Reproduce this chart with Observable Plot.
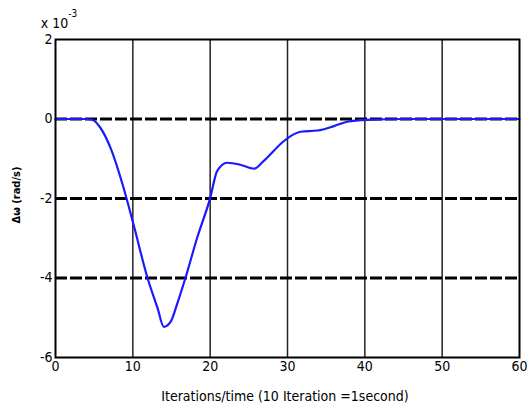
<!DOCTYPE html>
<html><head><meta charset="utf-8">
<script src="https://cdn.jsdelivr.net/npm/d3@7"></script>
<script src="https://cdn.jsdelivr.net/npm/@observablehq/plot@0.6"></script>
<style>
body{margin:0;background:#fff;}
svg{font-family:"DejaVu Sans Condensed","DejaVu Sans",sans-serif;}
</style>
</head><body>
<div id="chart"></div>
<script>
const times = [0,2,4,4.75,5.8,7.1,8.8,10.1,11.9,13.2,14.0,14.9,15.7,16.8,18.3,20.0,20.9,22.2,23.9,25.7,26.9,29.5,30.4,31.7,33.9,36.0,37.7,40.3,45,50,55,60];
const values = [0,0,0,-0.02,-0.22,-0.72,-1.73,-2.66,-4.0,-4.76,-5.23,-5.1,-4.67,-4.0,-3.0,-1.99,-1.31,-1.1,-1.15,-1.25,-1.06,-0.56,-0.43,-0.32,-0.29,-0.18,-0.07,-0.02,0,0,0,0];
const xTicks = [0,10,20,30,40,50,60];
const yTicks = [2,0,-2,-4,-6];
const xGrid = [10,20,30,40,50];
const yGrid = [0,-2,-4];
const xLabel = "Iterations/time (10 Iteration =1second)";
const yLabel = "Δω (rad/s)";

const data = times.map((t,i)=>({t, v: values[i]}));

const chart = Plot.plot({
  width: 531, height: 409,
  marginLeft: 55, marginRight: 12, marginTop: 39, marginBottom: 52,
  style: {fontSize: "14px", color: "#000", background: "#fff"},
  x: {domain: [0,60], ticks: xTicks, tickSize: 0, label: null},
  y: {domain: [-6,2], ticks: yTicks, tickSize: 0, label: null},
  marks: [
    Plot.ruleX(xGrid, {stroke: "#222", strokeWidth: 1.5}),
    Plot.ruleY(yGrid, {stroke: "#000", strokeWidth: 3, strokeDasharray: "12,3"}),
    Plot.line(data, {x: "t", y: "v", stroke: "#1a1aff", strokeWidth: 2.2, curve: "monotone-x"}),
    Plot.frame({stroke: "#000", strokeWidth: 2}),
    Plot.axisX({ticks: xTicks, tickSize: 0, tickPadding: 4, fontSize: 14, label: null, tickFormat: d => String(d)}),
    Plot.axisY({ticks: yTicks, tickSize: 0, tickPadding: 3, fontSize: 14, label: null, tickFormat: d => String(d)})
  ]
});
const svg = d3.select(chart);
svg.append("text").attr("x", 285).attr("y", 401).attr("text-anchor","middle")
  .attr("font-size", 14).text(xLabel);
const ex = svg.append("text").attr("x", 59).attr("y", 28).attr("font-size", 14);
ex.append("tspan").text("x 10");
ex.append("tspan").attr("dy", -11).attr("font-size", 10).text("-3");
svg.append("text").attr("transform","translate(20,195) rotate(-90)")
  .attr("text-anchor","middle").attr("font-size", 11).attr("font-weight","bold").text(yLabel);
document.getElementById("chart").appendChild(chart);
</script>
</body></html>
